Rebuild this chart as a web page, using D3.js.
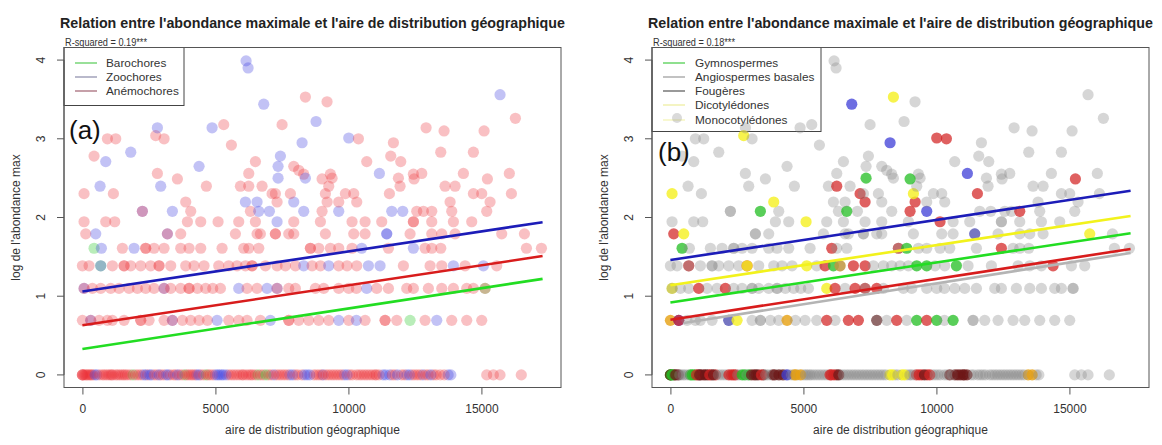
<!DOCTYPE html>
<html><head><meta charset="utf-8">
<script src="https://cdn.jsdelivr.net/npm/d3@7"></script>
<style>
html,body{margin:0;padding:0;background:#fff;}
svg{display:block;font-family:"Liberation Sans",Arial,sans-serif;}
</style></head>
<body>
<svg id="chart" width="1162" height="445"></svg>
<script>
// ---------------- DATA ----------------
const chartTitle = "Relation entre l'abondance maximale et l'aire de distribution géographique";
const xAxisTitle = "aire de distribution géographique";
const yAxisTitle = "log de l'abondance max";
const xTicks = [0, 5000, 10000, 15000];
const yTicks = [0, 1, 2, 3, 4];
const rSquaredA = "R-squared = 0.19***";
const rSquaredB = "R-squared = 0.18***";
const dispersalNames = ["Barochores", "Zoochores", "Anémochores"];
const cladeNames = ["Gymnospermes", "Angiospermes basales", "Fougères", "Dicotylédones", "Monocotylédones"];

// points lying on discrete levels of log(abundance): [area, dispersal code, clade code]
const level0 = 0;
const row0 = [[0,'A','G'],[0,'A','G'],[0,'A','k'],[100,'A','G'],[150,'A','k'],[250,'A','g'],[300,'A','k'],[400,'A','g'],[550,'Z','g'],[750,'A','G'],[900,'A','G'],[1050,'A','k'],[1150,'A','k'],[1250,'A','k'],[1400,'A','k'],[1550,'A','k'],[1700,'A','r'],[1900,'B','g'],[2100,'A','g'],[2300,'Z','r'],[2450,'A','r'],[2600,'Z','g'],[2800,'A','G'],[2950,'A','G'],[3150,'Z','k'],[3300,'A','k'],[3500,'A','k'],[3650,'A','g'],[3850,'B','k'],[4000,'A','g'],[4150,'A','g'],[4300,'Z','g'],[4450,'A','g'],[4650,'B','o'],[4800,'A','g'],[5000,'Z','g'],[5150,'Z','g'],[5300,'Z','g'],[5500,'A','g'],[5700,'A','g'],[5900,'A','g'],[6050,'A','r'],[6250,'A','k'],[6400,'A','g'],[6600,'B','g'],[6800,'A','g'],[7000,'A','g'],[7200,'Z','g'],[7400,'A','g'],[7600,'A','g'],[7800,'Z','g'],[8000,'A','g'],[8250,'A','y'],[8450,'Z','g'],[8700,'A','y'],[8900,'A','g'],[9050,'Z','g'],[9250,'A','r'],[9450,'A','r'],[9650,'A','r'],[9850,'Z','g'],[10050,'A','g'],[10300,'A','g'],[10500,'A','k'],[10700,'A','k'],[10900,'A','k'],[11050,'A','k'],[11300,'Z','g'],[11550,'Z','g'],[11750,'A','g'],[12000,'A','g'],[12200,'Z','g'],[12400,'A','g'],[12600,'A','g'],[12800,'Z','g'],[13000,'A','g'],[13200,'A','g'],[13450,'A','o'],[13750,'Z','g'],[15200,'A','g'],[15450,'A','g'],[15700,'A','g'],[16500,'A','g'],
 [50,'A','G'],[200,'A','k'],[350,'A','g'],[480,'Z','g'],[650,'A','g'],[820,'A','G'],[980,'A','r'],[1100,'A','k'],[1320,'A','k'],[1480,'A','r'],[1620,'A','k'],[1800,'A','g'],[2000,'A','g'],[2200,'A','r'],[2380,'Z','r'],[2530,'Z','g'],[2700,'A','G'],[2880,'Z','g'],[3050,'A','k'],[3220,'Z','k'],[3420,'A','r'],[3580,'Z','g'],[3750,'A','g'],[3920,'A','k'],[4080,'A','k'],[4230,'A','k'],[4380,'Z','b'],[4550,'A','g'],[4720,'A','o'],[4900,'A','o'],[5080,'Z','g'],[5230,'Z','g'],[5400,'Z','g'],[5600,'A','g'],[5800,'A','g'],[6000,'A','r'],[6150,'A','r'],[6330,'A','k'],[6500,'A','g'],[6700,'A','g'],[6900,'B','g'],[7100,'A','g'],[7300,'A','g'],[7500,'A','g'],[7700,'A','g'],[7900,'Z','g'],[8100,'A','g'],[8350,'Z','y'],[8550,'Z','g'],[8800,'A','y'],[9000,'A','g'],[9150,'A','g'],[9350,'A','r'],[9550,'A','k'],[9750,'A','r'],[9950,'Z','g'],[10150,'A','g'],[10400,'A','g'],[10600,'A','g'],[10800,'A','k'],[11000,'A','k'],[11150,'A','k'],[11400,'Z','g'],[11650,'A','g'],[11850,'Z','g'],[12100,'A','g'],[12300,'Z','g'],[12500,'A','g'],[12700,'A','g'],[12900,'A','g'],[13100,'Z','g'],[13300,'A','g'],[13600,'A','o'],[13850,'Z','g']];
const level1 = 0.693;
const row1 = [[0,'A','o'],[313,'Z','b'],[313,'A','r'],[626,'A','g'],[940,'A','g'],[1127,'A','g'],[1566,'A','g'],[2193,'A','b'],[2193,'A','g'],[2506,'A','y'],[3070,'A','g'],[3383,'Z','g'],[3383,'A','g'],[3759,'A','g'],[4072,'A','g'],[4385,'A','o'],[4699,'A','g'],[5063,'Z','g'],[5501,'A','g'],[5877,'A','r'],[6190,'A','g'],[6691,'A','r'],[7067,'Z','r'],[7757,'A','k'],[7757,'A','g'],[8132,'A','g'],[8508,'A','r'],[8884,'A','g'],[9260,'A','G'],[9636,'Z','r'],[10012,'A','G'],[10300,'Z','g'],[10627,'A','G'],[11378,'A','g'],[11378,'A','g'],[11817,'A','g'],[12318,'B','g'],[12882,'A','g'],[13321,'Z','g'],[13884,'A','g'],[14448,'A','g'],[15012,'A','g']];
const level2 = 1.099;
const row2 = [[62,'Z','y'],[62,'A','g'],[376,'A','g'],[689,'A','g'],[1065,'A','r'],[1378,'A','g'],[1754,'A','g'],[2067,'A','r'],[2380,'A','g'],[2694,'A','g'],[3070,'Z','g'],[3070,'A','g'],[3320,'A','g'],[3696,'A','g'],[4009,'A','g'],[4009,'A','g'],[4323,'A','g'],[4636,'A','g'],[4900,'A','g'],[5188,'A','g'],[5877,'Z','y'],[6190,'A','r'],[6566,'A','g'],[6942,'Z','r'],[7318,'Z','r'],[7318,'A','g'],[7757,'A','r'],[8007,'A','g'],[8759,'A','g'],[9072,'A','g'],[9636,'A','g'],[10012,'A','g'],[10300,'A','g'],[10689,'Z','g'],[11065,'A','g'],[11504,'A','g'],[12193,'A','g'],[12443,'A','g'],[13007,'A','g'],[13509,'A','g'],[13947,'A','g'],[14448,'A','g'],[14699,'A','g'],[15137,'B','g'],[15137,'A','g']];
const level3 = 1.386;
const row3 = [[0,'A','g'],[250,'A','g'],[689,'B','r'],[689,'Z','g'],[1127,'A','g'],[1566,'A','g'],[1566,'A','g'],[1817,'A','g'],[2193,'A','g'],[2568,'A','g'],[2882,'A','r'],[2882,'A','y'],[3320,'A','g'],[3884,'A','g'],[4197,'A','g'],[4573,'A','g'],[5125,'A','y'],[5501,'A','g'],[5814,'A','r'],[6128,'A','G'],[6378,'A','o'],[6378,'A','g'],[6880,'A','r'],[7318,'A','r'],[7631,'A','g'],[8007,'A','g'],[8320,'Z','g'],[8634,'A','g'],[8947,'A','g'],[9260,'Z','G'],[9636,'A','G'],[9949,'A','g'],[10313,'A','g'],[10752,'Z','G'],[11190,'Z','g'],[12067,'A','g'],[13070,'A','g'],[13509,'A','g'],[13947,'Z','g'],[14386,'A','r'],[15075,'Z','g'],[15576,'A','g']];
const level4 = 1.609;
const row4 = [[438,'B','G'],[714,'Z','g'],[1503,'A','g'],[1942,'Z','g'],[2380,'A','g'],[2380,'A','g'],[2694,'A','g'],[3070,'A','g'],[3696,'A','g'],[4009,'A','g'],[4448,'A','g'],[5251,'A','g'],[6065,'A','r'],[6253,'A','g'],[6629,'A','g'],[8571,'A','r'],[8571,'A','g'],[8884,'A','G'],[9323,'A','g'],[9636,'A','g'],[10137,'A','g'],[10501,'Z','g'],[11504,'A','g'],[12443,'Z','r'],[12882,'A','g'],[13133,'A','g'],[13471,'A','g'],[16692,'A','g'],[17256,'A','g']];
const level5 = 1.792;
const row5 = [[125,'A','r'],[501,'Z','y'],[3195,'Z','g'],[3195,'A','g'],[3696,'A','g'],[5752,'A','g'],[6566,'A','g'],[6691,'A','g'],[7255,'A','g'],[7255,'A','g'],[7757,'A','g'],[7945,'A','g'],[9135,'A','g'],[10200,'A','g'],[10627,'A','g'],[11441,'Z','b'],[11441,'Z','g'],[12318,'A','g'],[13133,'A','g'],[13509,'A','g'],[14010,'A','g'],[15764,'A','y'],[16617,'A','g']];
const level6 = 1.946;
const row6 = [[62,'A','g'],[877,'A','g'],[1215,'A','g'],[3947,'A','g'],[4448,'A','g'],[5100,'A','y'],[5877,'A','g'],[6504,'A','g'],[7318,'Z','g'],[7945,'A','g'],[8947,'A','g'],[10137,'A','r'],[10627,'A','g'],[11253,'A','g'],[12443,'A','g'],[12443,'A','g'],[13133,'A','g'],[13947,'A','g'],[14636,'A','g']];
const level7 = 2.079;
const row7 = [[2255,'Z','g'],[2255,'A','g'],[3383,'Z','G'],[4072,'A','g'],[6316,'A','g'],[6629,'Z','G'],[7030,'Z','g'],[8320,'Z','g'],[9010,'A','r'],[9636,'Z','b'],[11629,'Z','g'],[12042,'Z','g'],[12569,'A','g'],[12819,'A','g'],[13133,'A','r'],[13884,'A','g'],[15200,'A','g']];
const level8 = 2.197;
const row8 = [[3884,'A','y'],[6128,'Z','g'],[6566,'Z','g'],[7318,'A','r'],[7945,'Z','g'],[9200,'A','r'],[9636,'A','g'],[10313,'A','g'],[13822,'A','g'],[15325,'A','g']];
const level9 = 2.303;
const row9 = [[62,'A','y'],[1165,'A','g'],[7130,'A','r'],[7255,'A','g'],[7819,'A','g'],[9135,'A','y'],[9887,'A','g'],[10200,'A','g'],[11541,'A','r'],[14699,'A','g'],[15012,'A','g'],[16128,'A','g']];
const level10 = 2.398;
const row10 = [[664,'Z','g'],[2944,'Z','g'],[4660,'A','g'],[5940,'A','g'],[6253,'A','r'],[6754,'A','g'],[9260,'A','g'],[11942,'A','g'],[13634,'A','g'],[14010,'A','g']];
// remaining points: [area, log abundance, dispersal code, clade code]
const scattered = [[940,3.0,'A','g'],[1253,3.0,'A','g'],[2756,3.04,'A','y'],[3070,3.0,'A','g'],[2819,3.14,'Z','g'],[438,2.78,'A','g'],[877,2.71,'Z','g'],[1817,2.83,'Z','g'],[2819,2.56,'A','g'],[3571,2.49,'A','g'],[4385,2.65,'Z','g'],
 [6153,3.99,'Z','g'],[6228,3.90,'Z','g'],[6817,3.44,'Z','b'],[8383,3.53,'A','y'],[9197,3.47,'A','g'],[4875,3.14,'Z','g'],[5313,3.18,'A','g'],[7506,3.18,'A','g'],[8784,3.22,'Z','g'],[10012,3.01,'Z','r'],[5601,2.92,'A','g'],[8258,2.95,'Z','b'],[6504,2.71,'A','g'],[7443,2.78,'Z','g'],[7356,2.65,'Z','g'],[6253,2.56,'A','g'],[7945,2.65,'A','g'],[8132,2.60,'A','g'],[8320,2.55,'A','g'],[7356,2.50,'Z','G'],[8383,2.50,'Z','g'],[9323,2.55,'A','g'],[9386,2.50,'A','g'],[9010,2.49,'A','G'],
 [15701,3.56,'Z','g'],[12920,3.14,'A','g'],[13596,3.10,'A','g'],[15100,3.10,'A','g'],[10376,3.0,'A','r'],[11692,2.95,'A','g'],[10689,2.71,'A','g'],[11591,2.78,'A','g'],[11967,2.71,'A','g'],[13471,2.83,'A','g'],[14699,2.83,'A','g'],[11165,2.56,'Z','b'],[11880,2.50,'A','g'],[12443,2.55,'A','g'],[12757,2.56,'A','g'],[12468,2.49,'A','g'],[14323,2.56,'A','g'],[15225,2.49,'A','r'],
 [16278,3.26,'A','g'],[16050,2.56,'A','g']];

// fitted regression lines: area range and [value at start, value at end]
const fitRange = [0, 17300];
const fitA_zoo = [1.06, 1.94];
const fitA_anemo = [0.63, 1.51];
const fitA_baro = [0.33, 1.22];
const fitB_blue = [1.46, 2.34];
const fitB_yellow = [1.14, 2.02];
const fitB_green = [0.92, 1.80];
const fitB_grey = [0.66, 1.55];
const fitB_red = [0.70, 1.60];

// ---------------- BUILD ----------------
(function(){
const levelRows = [[level0,row0],[level1,row1],[level2,row2],[level3,row3],[level4,row4],[level5,row5],[level6,row6],[level7,row7],[level8,row8],[level9,row9],[level10,row10]];
const points = [];
levelRows.forEach(([lv, rows]) => rows.forEach(p => points.push({x:p[0], y:lv, a:p[1], b:p[2]})));
scattered.forEach(p => points.push({x:p[0], y:p[1], a:p[2], b:p[3]}));

const fillA = {B:'rgba(40,200,40,0.33)', Z:'rgba(70,70,225,0.33)', A:'rgba(235,50,55,0.30)'};
const fillB = {g:'rgba(135,135,135,0.34)', r:'rgba(210,35,35,0.72)', G:'rgba(35,190,35,0.75)', b:'rgba(60,60,215,0.75)', y:'rgba(245,240,30,0.8)', o:'rgba(230,160,20,0.8)', k:'rgba(110,25,25,0.72)'};

const svg = d3.select('#chart');
const defs = svg.append('defs');
defs.append('filter').attr('id','soft').append('feGaussianBlur').attr('stdDeviation',0.5);

const panels = [
  {left:64, right:561, code:'a', fill:fillA, r2:rSquaredA, tag:'(a)', tagX:69, tagY:139,
   legend:{w:120, h:58, lineX:[75,97], textX:106, rows:[63,77,91],
     items:[{name:dispersalNames[0], color:'#55cc55'},{name:dispersalNames[1], color:'#8a8aa8'},{name:dispersalNames[2], color:'#a06070'}]},
   fits:[{v:fitA_baro,c:'#22dd22'},{v:fitA_anemo,c:'#d81c1c'},{v:fitA_zoo,c:'#1c1cb8'}]},
  {left:652, right:1149, code:'b', fill:fillB, r2:rSquaredB, tag:'(b)', tagX:658, tagY:161,
   legend:{w:169, h:84, lineX:[663,685], textX:695, rows:[63,77,91,105,120],
     items:[{name:cladeNames[0], color:'#44cc44'},{name:cladeNames[1], color:'#999999'},{name:cladeNames[2], color:'#555555'},{name:cladeNames[3], color:'#ecec9a'},{name:cladeNames[4], color:'#f3f3b0', dot:true}]},
   fits:[{v:fitB_grey,c:'#b4b4b4', from:500},{v:fitB_red,c:'#d81c1c'},{v:fitB_green,c:'#22dd22'},{v:fitB_yellow,c:'#f2f21c'},{v:fitB_blue,c:'#1c1cb8'}]}
];

const plotTop = 47.5, plotBottom = 387.5;
const y = d3.scaleLinear().domain([-0.16, 4.16]).range([plotBottom, plotTop]);
const fontFam = '"Liberation Sans",Arial,sans-serif';

panels.forEach(P => {
  const x = d3.scaleLinear().domain([-692, 17992]).range([P.left, P.right]);
  const g = svg.append('g');
  const cx = (P.left + P.right) / 2;

  const t = g.append('text').attr('x', cx).attr('y', 28).attr('text-anchor','middle')
    .attr('font-weight','bold').attr('font-size',14).attr('fill','#222').text(chartTitle);
  const tw = t.node().getComputedTextLength();
  t.attr('font-size', 14 * 505 / tw);

  g.append('text').attr('x', P.left + 1).attr('y', 45.5).attr('font-size',11).attr('fill','#333')
    .attr('textLength', 82).attr('lengthAdjust','spacingAndGlyphs').text(P.r2);

  const L = P.legend;
  g.append('rect').attr('x', P.left).attr('y', plotTop).attr('width', L.w).attr('height', L.h)
    .attr('fill','#fff').attr('stroke','#444').attr('stroke-width',1);
  L.items.forEach((it, i) => {
    g.append('line').attr('x1', L.lineX[0]).attr('x2', L.lineX[1]).attr('y1', L.rows[i]).attr('y2', L.rows[i])
      .attr('stroke', it.color).attr('stroke-width', 1.2);
    if (it.dot) g.append('circle').attr('cx', L.lineX[1] - 8).attr('cy', L.rows[i] - 2).attr('r', 5).attr('fill','rgba(150,150,150,0.35)');
    g.append('text').attr('x', L.textX).attr('y', L.rows[i] + 4).attr('font-size', 11.8).attr('fill','#333').text(it.name);
  });

  g.append('g').attr('filter','url(#soft)').selectAll('circle').data(points).join('circle')
    .attr('cx', d => x(d.x)).attr('cy', d => y(d.y)).attr('r', 5.6)
    .attr('fill', d => P.fill[P.code === 'a' ? d.a : d.b]);

  P.fits.forEach(f => {
    const x0 = f.from !== undefined ? f.from : fitRange[0];
    g.append('line').attr('x1', x(x0)).attr('y1', y(f.v[0])).attr('x2', x(fitRange[1])).attr('y2', y(f.v[1]))
      .attr('stroke', f.c).attr('stroke-width', 2.6);
  });

  g.append('rect').attr('x', P.left).attr('y', plotTop).attr('width', P.right - P.left).attr('height', plotBottom - plotTop)
    .attr('fill','none').attr('stroke','#555').attr('stroke-width',1);

  const xa = g.append('g').attr('transform', `translate(0,${plotBottom})`)
    .call(d3.axisBottom(x).tickValues(xTicks).tickSize(7).tickPadding(10).tickFormat(d3.format('d')));
  xa.select('.domain').attr('stroke','#555').attr('d', `M${x(xTicks[0])},0H${x(xTicks[xTicks.length-1])}`);
  xa.selectAll('line').attr('stroke','#555');
  xa.selectAll('text').attr('font-size',12).attr('fill','#333').attr('font-family',fontFam);

  const ya = g.append('g').attr('transform', `translate(${P.left},0)`)
    .call(d3.axisLeft(y).tickValues(yTicks).tickSize(7).tickFormat(d3.format('d')));
  ya.select('.domain').attr('stroke','#555').attr('d', `M0,${y(0)}V${y(4)}`);
  ya.selectAll('line').attr('stroke','#555');
  ya.selectAll('.tick').each(function(d){
    const tk = d3.select(this);
    tk.attr('transform', null);
    tk.select('line').attr('y1', y(d)).attr('y2', y(d));
    tk.select('text').attr('font-size',12).attr('fill','#333').attr('font-family',fontFam)
      .attr('text-anchor','middle').attr('dy', null).attr('x',0).attr('y',0)
      .attr('transform', `translate(-19,${y(d)}) rotate(-90)`);
  });

  g.append('text').attr('x', cx).attr('y', 434).attr('text-anchor','middle').attr('font-size',12).attr('fill','#333').text(xAxisTitle);
  g.append('text').attr('transform', `translate(${P.left - 44},${(plotTop + plotBottom) / 2}) rotate(-90)`)
    .attr('text-anchor','middle').attr('font-size',12).attr('fill','#333').text(yAxisTitle);

  g.append('text').attr('x', P.tagX).attr('y', P.tagY).attr('font-size', 26).attr('fill','#111').text(P.tag);
});
})();
</script>
</body></html>
